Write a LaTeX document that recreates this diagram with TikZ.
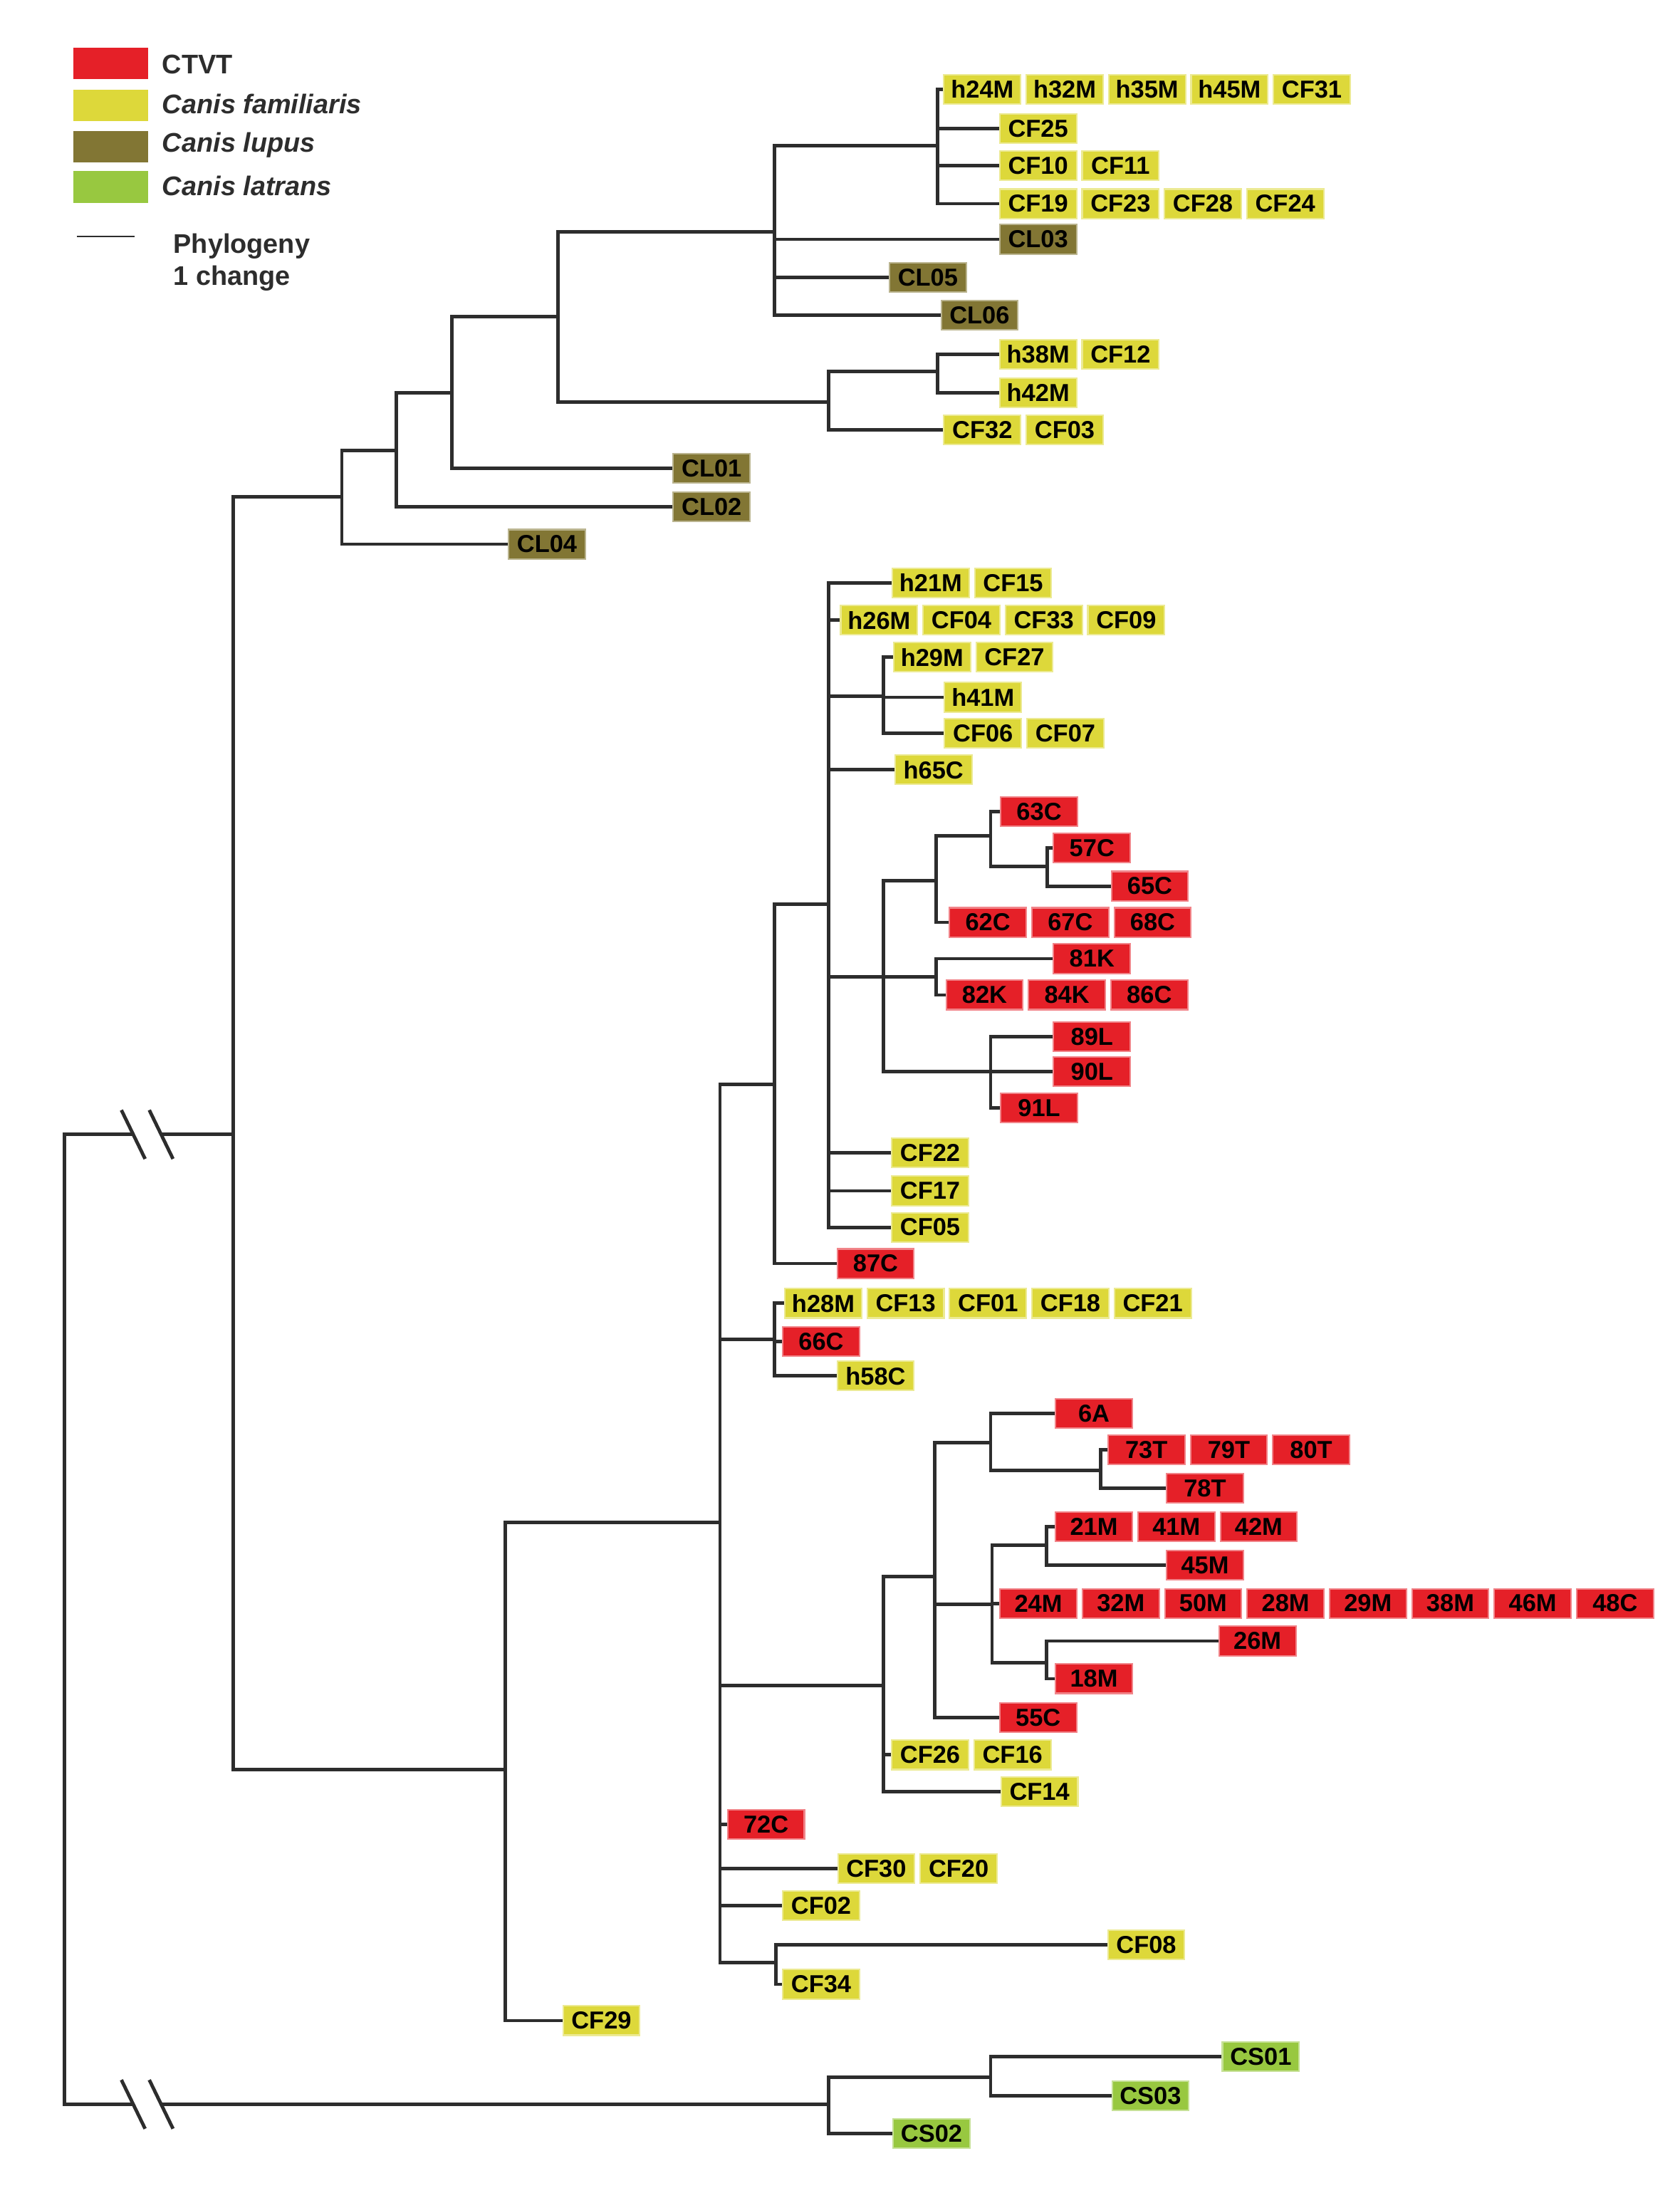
\documentclass[tikz,border=0pt]{standalone}
\usepackage{fontspec}
\setmainfont{Liberation Sans}
\usetikzlibrary{positioning}
\definecolor{ctvtR}{RGB}{229,32,40}
\definecolor{famY}{RGB}{221,216,58}
\definecolor{lupO}{RGB}{130,118,52}
\definecolor{latG}{RGB}{152,200,64}
\definecolor{lineC}{RGB}{45,45,45}
\definecolor{legT}{RGB}{45,45,45}
\begin{document}
\begin{tikzpicture}[x=0.02cm,y=-0.02cm,
  lab/.style={minimum width=1.1cm, minimum height=0.42cm, inner sep=0pt, anchor=west,
    font=\bfseries\fontsize{10}{10}\selectfont, text=black},
  cf/.style={lab, fill=famY, draw=famY!55!white, line width=0.6pt},
  ct/.style={lab, fill=ctvtR, draw=ctvtR!55!white, line width=0.6pt},
  cl/.style={lab, fill=lupO, draw=lupO!55!white, line width=0.6pt},
  cs/.style={lab, fill=latG, draw=latG!55!white, line width=0.6pt},
  nx/.style={right=0.06cm of #1},
  br/.style={draw=lineC, line width=1.4pt},
  legbox/.style={minimum width=1.07cm, minimum height=0.45cm, inner sep=0pt},
  legtxt/.style={anchor=west, inner sep=0pt, text=legT, font=\bfseries\fontsize{11}{11}\selectfont},
  legit/.style={legtxt, font=\bfseries\itshape\fontsize{11}{11}\selectfont}]
\useasboundingbox (0,0) rectangle (1204,1568);
\fill[white] (0,0) rectangle (1204,1568);

% ---------- legend ----------
\node[legbox, fill=ctvtR] (lgR) at (79.25,45.5) {};
\node[legbox, fill=famY]  (lgY) at (79.25,75.75) {};
\node[legbox, fill=lupO]  (lgO) at (79.25,105.1) {};
\node[legbox, fill=latG]  (lgG) at (79.25,134) {};
\node[legtxt] (lgRt) at (116,46.4) {CTVT};
\node[legit]  (lgYt) at (116,74.5) {Canis familiaris};
\node[legit]  (lgOt) at (116,104) {Canis lupus};
\node[legit]  (lgGt) at (116,133) {Canis latrans};
\coordinate (sbA) at (55,169.5);
\coordinate (sbB) at (96.5,169.5);
\draw[draw=lineC, line width=0.8pt] (sbA) -- (sbB);
\node[legtxt] (phy) at (124,176.4) {Phylogeny};
\node[legtxt] (chg) at (124,199.6) {1 change};

% ---------- upper clade labels ----------
\node[cf] (h24M) at (676,64) {h24M};
\node[cf,nx=h24M] (h32M) {h32M};
\node[cf,nx=h32M] (h35M) {h35M};
\node[cf,nx=h35M] (h45M) {h45M};
\node[cf,nx=h45M] (CF31) {CF31};
\node[cf] (CF25) at (716,92) {CF25};
\node[cf] (CF10) at (716,118.5) {CF10};
\node[cf,nx=CF10] (CF11) {CF11};
\node[cf] (CF19) at (716,146) {CF19};
\node[cf,nx=CF19] (CF23) {CF23};
\node[cf,nx=CF23] (CF28) {CF28};
\node[cf,nx=CF28] (CF24) {CF24};
\node[cl] (CL03) at (716,171.5) {CL03};
\node[cl] (CL05) at (637,199) {CL05};
\node[cl] (CL06) at (674,226) {CL06};
\node[cf] (h38M) at (716,254) {h38M};
\node[cf,nx=h38M] (CF12) {CF12};
\node[cf] (h42M) at (716,281.5) {h42M};
\node[cf] (CF32) at (676,308) {CF32};
\node[cf,nx=CF32] (CF03) {CF03};
\node[cl] (CL01) at (482,335.5) {CL01};
\node[cl] (CL02) at (482,363) {CL02};
\node[cl] (CL04) at (364,390) {CL04};

% ---------- middle clade labels ----------
\node[cf] (h21M) at (639,417.6) {h21M};
\node[cf,nx=h21M] (CF15) {CF15};
\node[cf] (h26M) at (602,444.5) {h26M};
\node[cf,nx=h26M] (CF04) {CF04};
\node[cf,nx=CF04] (CF33) {CF33};
\node[cf,nx=CF33] (CF09) {CF09};
\node[cf] (h29M) at (640,471) {h29M};
\node[cf,nx=h29M] (CF27) {CF27};
\node[cf] (h41M) at (676.5,499.7) {h41M};
\node[cf] (CF06) at (676.5,525.3) {CF06};
\node[cf,nx=CF06] (CF07) {CF07};
\node[cf] (h65C) at (641,551.7) {h65C};
\node[ct] (t63C) at (716.7,581.8) {63C};
\node[ct] (t57C) at (754.6,607.8) {57C};
\node[ct] (t65C) at (796,635) {65C};
\node[ct] (t62C) at (680,661) {62C};
\node[ct,nx=t62C] (t67C) {67C};
\node[ct,nx=t67C] (t68C) {68C};
\node[ct] (t81K) at (754.6,687) {81K};
\node[ct] (t82K) at (677.6,713) {82K};
\node[ct,nx=t82K] (t84K) {84K};
\node[ct,nx=t84K] (t86C) {86C};
\node[ct] (t89L) at (754.6,743) {89L};
\node[ct] (t90L) at (754.6,768) {90L};
\node[ct] (t91L) at (716.7,794) {91L};
\node[cf] (CF22) at (638.6,826) {CF22};
\node[cf] (CF17) at (638.6,853.4) {CF17};
\node[cf] (CF05) at (638.6,879.5) {CF05};
\node[ct] (t87C) at (599.5,905.5) {87C};
\node[cf] (h28M) at (562,934) {h28M};
\node[cf,nx=h28M] (CF13) {CF13};
\node[cf,nx=CF13] (CF01) {CF01};
\node[cf,nx=CF01] (CF18) {CF18};
\node[cf,nx=CF18] (CF21) {CF21};
\node[ct] (t66C) at (560.5,961.5) {66C};
\node[cf] (h58C) at (599.5,986) {h58C};

% ---------- lower CTVT clade labels ----------
\node[ct] (t6A) at (756,1013) {6A};
\node[ct] (t73T) at (793.6,1039) {73T};
\node[ct,nx=t73T] (t79T) {79T};
\node[ct,nx=t79T] (t80T) {80T};
\node[ct] (t78T) at (835.6,1066.5) {78T};
\node[ct] (t21M) at (756,1094) {21M};
\node[ct,nx=t21M] (t41M) {41M};
\node[ct,nx=t41M] (t42M) {42M};
\node[ct] (t45M) at (835.6,1121.8) {45M};
\node[ct] (t24M) at (716.2,1149) {24M};
\node[ct,nx=t24M] (t32M) {32M};
\node[ct,nx=t32M] (t50M) {50M};
\node[ct,nx=t50M] (t28M) {28M};
\node[ct,nx=t28M] (t29M) {29M};
\node[ct,nx=t29M] (t38M) {38M};
\node[ct,nx=t38M] (t46M) {46M};
\node[ct,nx=t46M] (t48C) {48C};
\node[ct] (t26M) at (873.2,1176) {26M};
\node[ct] (t18M) at (756,1203) {18M};
\node[ct] (t55C) at (716,1231) {55C};
\node[cf] (CF26) at (638.6,1257.6) {CF26};
\node[cf,nx=CF26] (CF16) {CF16};
\node[cf] (CF14) at (717,1284) {CF14};
\node[ct] (t72C) at (521,1307.5) {72C};
\node[cf] (CF30) at (600,1339) {CF30};
\node[cf,nx=CF30] (CF20) {CF20};
\node[cf] (CF02) at (560.5,1365.5) {CF02};
\node[cf] (CF08) at (793.5,1393.6) {CF08};
\node[cf] (CF34) at (560.5,1422) {CF34};
\node[cf] (CF29) at (403,1448) {CF29};
\node[cs] (CS01) at (875.6,1474) {CS01};
\node[cs] (CS03) at (796.5,1502) {CS03};
\node[cs] (CS02) at (639.6,1529) {CS02};

% ---------- internal nodes ----------
\coordinate (nA) at (672,104.5);
\coordinate (nB) at (555,166);
\coordinate (nC) at (672,266);
\coordinate (nD) at (594,288);
\coordinate (nE) at (400,227);
\coordinate (nF) at (324,281.5);
\coordinate (nG) at (284,323);
\coordinate (nH) at (245,356);
\coordinate (nI) at (167,813);
\coordinate (nJ) at (362,1268);
\coordinate (nK) at (516,1091);
\coordinate (nL) at (555,777);
\coordinate (nP) at (594,648);
\coordinate (nQ) at (633,499);
\coordinate (nR) at (633,700);
\coordinate (nS) at (671,631);
\coordinate (nV) at (710,599);
\coordinate (nW) at (750.5,621);
\coordinate (nU) at (671,700);
\coordinate (nT) at (710,768);
\coordinate (nM) at (555,960);
\coordinate (nN) at (633,1208);
\coordinate (nX) at (670,1130);
\coordinate (nY) at (710,1034);
\coordinate (nY2) at (789,1053.7);
\coordinate (nZ) at (711,1149.5);
\coordinate (nZ1) at (750,1107.5);
\coordinate (nZ2) at (750,1191.5);
\coordinate (nO) at (556,1406.5);
\coordinate (root) at (46,1160);
\coordinate (nCS) at (594,1508);
\coordinate (nCS2) at (710,1488.5);
\coordinate (bkT1) at (95.5,813);
\coordinate (bkT2) at (115.5,813);
\coordinate (bkB1) at (95.5,1508);
\coordinate (bkB2) at (115.5,1508);

% ---------- branches ----------
\begin{scope}[br]
% upper clade
\draw (nA) |- (h24M.west); \draw (nA) |- (CF25.west);
\draw (nA) |- (CF10.west); \draw (nA) |- (CF19.west);
\draw (nB) |- (nA); \draw (nB) |- (CL03.west);
\draw (nB) |- (CL05.west); \draw (nB) |- (CL06.west);
\draw (nC) |- (h38M.west); \draw (nC) |- (h42M.west);
\draw (nD) |- (nC); \draw (nD) |- (CF32.west);
\draw (nE) |- (nB); \draw (nE) |- (nD);
\draw (nF) |- (nE); \draw (nF) |- (CL01.west);
\draw (nG) |- (nF); \draw (nG) |- (CL02.west);
\draw (nH) |- (nG); \draw (nH) |- (CL04.west);
\draw (nI) |- (nH); \draw (nI) |- (nJ);
\draw (nJ) |- (nK); \draw (nJ) |- (CF29.west);
% middle clade
\draw (nK) |- (nL); \draw (nK) |- (nM); \draw (nK) |- (nN);
\draw (nK) |- (t72C.west); \draw (nK) |- (CF30.west);
\draw (nK) |- (CF02.west); \draw (nK) |- (nO);
\draw (nL) |- (nP); \draw (nL) |- (t87C.west);
\draw (nP) |- (h21M.west); \draw (nP) |- (h26M.west);
\draw (nP) |- (nQ); \draw (nP) |- (h65C.west);
\draw (nP) |- (nR); \draw (nP) |- (CF22.west);
\draw (nP) |- (CF17.west); \draw (nP) |- (CF05.west);
\draw (nQ) |- (h29M.west); \draw (nQ) |- (h41M.west); \draw (nQ) |- (CF06.west);
\draw (nR) |- (nS); \draw (nR) |- (nU); \draw (nR) |- (nT);
\draw (nS) |- (nV); \draw (nS) |- (t62C.west);
\draw (nV) |- (t63C.west); \draw (nV) |- (nW);
\draw (nW) |- (t57C.west); \draw (nW) |- (t65C.west);
\draw (nU) |- (t81K.west); \draw (nU) |- (t82K.west);
\draw (nT) |- (t89L.west); \draw (nT) |- (t90L.west); \draw (nT) |- (t91L.west);
\draw (nM) |- (h28M.west); \draw (nM) |- (t66C.west); \draw (nM) |- (h58C.west);
% lower CTVT clade
\draw (nN) |- (nX); \draw (nN) |- (CF26.west); \draw (nN) |- (CF14.west);
\draw (nX) |- (nY); \draw (nX) |- (nZ); \draw (nX) |- (t55C.west);
\draw (nY) |- (t6A.west); \draw (nY) |- (nY2);
\draw (nY2) |- (t73T.west); \draw (nY2) |- (t78T.west);
\draw (nZ) |- (nZ1); \draw (nZ) |- (t24M.west); \draw (nZ) |- (nZ2);
\draw (nZ1) |- (t21M.west); \draw (nZ1) |- (t45M.west);
\draw (nZ2) |- (t26M.west); \draw (nZ2) |- (t18M.west);
\draw (nO) |- (CF08.west); \draw (nO) |- (CF34.west);
% outgroup
\draw (nCS) |- (nCS2); \draw (nCS) |- (CS02.west);
\draw (nCS2) |- (CS01.west); \draw (nCS2) |- (CS03.west);
% root with breaks
\draw (root) |- (bkT1); \draw (bkT2) -- (nI);
\draw (root) |- (bkB1); \draw (bkB2) -- (nCS);
\draw (bkT1) ++(-8.5,-17.5) -- ++(17,35);
\draw (bkT2) ++(-8.5,-17.5) -- ++(17,35);
\draw (bkB1) ++(-8.5,-17.5) -- ++(17,35);
\draw (bkB2) ++(-8.5,-17.5) -- ++(17,35);
\end{scope}
\end{tikzpicture}
\end{document}
